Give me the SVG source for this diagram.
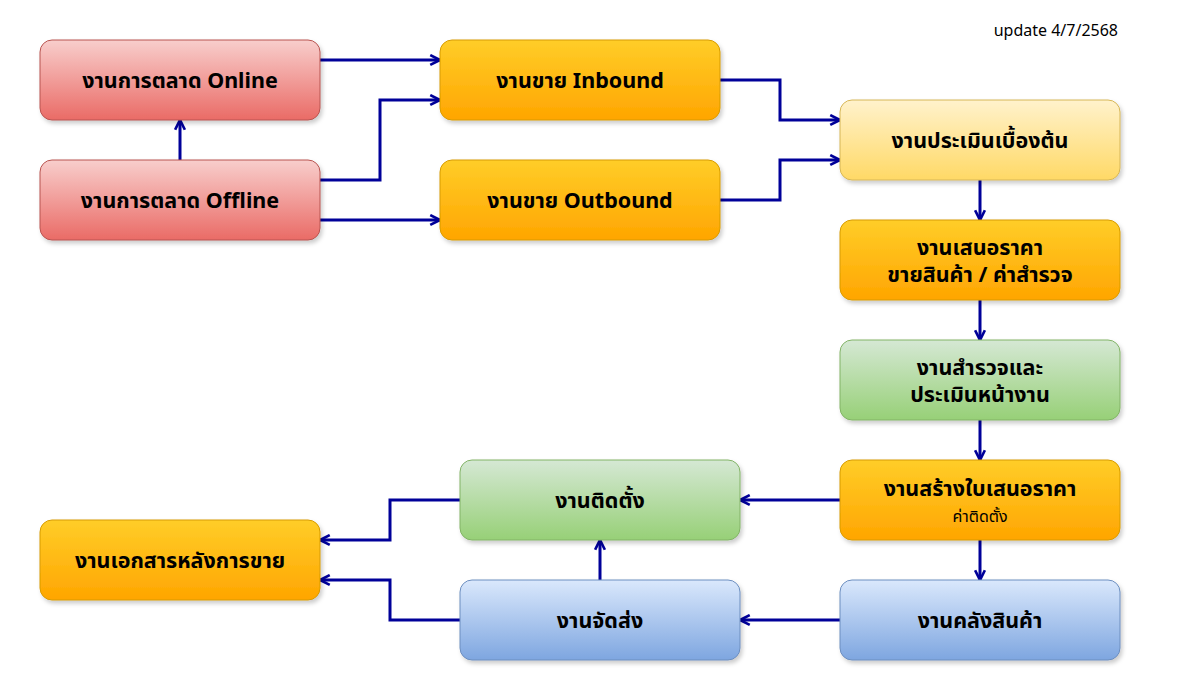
<svg xmlns="http://www.w3.org/2000/svg" width="1200" height="700" viewBox="0 0 1200 700">
<defs>
<linearGradient id="gRed" x1="0" y1="0" x2="0" y2="1"><stop offset="0" stop-color="#f8cecc"/><stop offset="1" stop-color="#ea6b66"/></linearGradient>
<linearGradient id="gOrange" x1="0" y1="0" x2="0" y2="1"><stop offset="0" stop-color="#ffcd28"/><stop offset="1" stop-color="#ffa500"/></linearGradient>
<linearGradient id="gYellow" x1="0" y1="0" x2="0" y2="1"><stop offset="0" stop-color="#fff2cc"/><stop offset="1" stop-color="#ffd966"/></linearGradient>
<linearGradient id="gGreen" x1="0" y1="0" x2="0" y2="1"><stop offset="0" stop-color="#d5e8d4"/><stop offset="1" stop-color="#97d077"/></linearGradient>
<linearGradient id="gBlue" x1="0" y1="0" x2="0" y2="1"><stop offset="0" stop-color="#dae8fc"/><stop offset="1" stop-color="#7ea6e0"/></linearGradient>
<filter id="shadow" x="-10%" y="-10%" width="130%" height="140%"><feDropShadow dx="2" dy="3" stdDeviation="2" flood-color="#000" flood-opacity="0.2"/></filter>
<marker id="arr" viewBox="0 0 12 12" refX="11" refY="6" markerWidth="13" markerHeight="13" markerUnits="userSpaceOnUse" orient="auto"><path d="M2,1.5 L11,6 L2,10.5" fill="none" stroke="#000099" stroke-width="2.5"/></marker>
</defs>
<style>
.box{filter:url(#shadow);stroke-width:1}
.red{fill:url(#gRed);stroke:#b85450}
.orange{fill:url(#gOrange);stroke:#d79b00}
.yellow{fill:url(#gYellow);stroke:#d6b656}
.green{fill:url(#gGreen);stroke:#82b366}
.blue{fill:url(#gBlue);stroke:#6c8ebf}
.t{font-family:"Noto Sans","Noto Sans Thai","DejaVu Sans",sans-serif;font-size:21.5px;font-weight:bold;fill:#000;text-anchor:middle;dominant-baseline:central}
.s{font-family:"Noto Sans","Noto Sans Thai","DejaVu Sans",sans-serif;font-size:16px;fill:#000;text-anchor:middle;dominant-baseline:central}
.e{fill:none;stroke:#000099;stroke-width:3;marker-end:url(#arr)}
</style>
<rect width="1200" height="700" fill="#fff"/>
<text x="1118" y="30" style="font-family:'Noto Sans','DejaVu Sans',sans-serif;font-size:16px;fill:#000;text-anchor:end;dominant-baseline:central">update 4/7/2568</text>
<g id="connectors">
<path class="e" d="M320,60 L440,60"/>
<path class="e" d="M320,180 L380,180 L380,100 L440,100"/>
<path class="e" d="M320,220 L440,220"/>
<path class="e" d="M180,160 L180,120"/>
<path class="e" d="M720,80 L780,80 L780,120 L840,120"/>
<path class="e" d="M720,200 L780,200 L780,160 L840,160"/>
<path class="e" d="M980,180 L980,220"/>
<path class="e" d="M980,300 L980,340"/>
<path class="e" d="M980,420 L980,460"/>
<path class="e" d="M840,500 L740,500"/>
<path class="e" d="M980,540 L980,580"/>
<path class="e" d="M840,620 L740,620"/>
<path class="e" d="M600,580 L600,540"/>
<path class="e" d="M460,500 L390,500 L390,540 L320,540"/>
<path class="e" d="M460,620 L390,620 L390,580 L320,580"/>
</g>
<g id="online"><rect class="box red" x="40" y="40" width="280" height="80" rx="12"/><text class="t" x="180" y="79">งานการตลาด Online</text></g>
<g id="offline"><rect class="box red" x="40" y="160" width="280" height="80" rx="12"/><text class="t" x="180" y="199">งานการตลาด Offline</text></g>
<g id="inbound"><rect class="box orange" x="440" y="40" width="280" height="80" rx="12"/><text class="t" x="580" y="79">งานขาย Inbound</text></g>
<g id="outbound"><rect class="box orange" x="440" y="160" width="280" height="80" rx="12"/><text class="t" x="580" y="199">งานขาย Outbound</text></g>
<g id="assess"><rect class="box yellow" x="840" y="100" width="280" height="80" rx="12"/><text class="t" x="980" y="139">งานประเมินเบื้องต้น</text></g>
<g id="quote"><rect class="box orange" x="840" y="220" width="280" height="80" rx="12"/><text class="t" x="980" y="246">งานเสนอราคา</text><text class="t" x="980" y="273">ขายสินค้า / ค่าสำรวจ</text></g>
<g id="survey"><rect class="box green" x="840" y="340" width="280" height="80" rx="12"/><text class="t" x="980" y="366">งานสำรวจและ</text><text class="t" x="980" y="393">ประเมินหน้างาน</text></g>
<g id="installquote"><rect class="box orange" x="840" y="460" width="280" height="80" rx="12"/><text class="t" x="980" y="487">งานสร้างใบเสนอราคา</text><text class="s" x="980" y="516">ค่าติดตั้ง</text></g>
<g id="warehouse"><rect class="box blue" x="840" y="580" width="280" height="80" rx="12"/><text class="t" x="980" y="619">งานคลังสินค้า</text></g>
<g id="install"><rect class="box green" x="460" y="460" width="280" height="80" rx="12"/><text class="t" x="600" y="499">งานติดตั้ง</text></g>
<g id="delivery"><rect class="box blue" x="460" y="580" width="280" height="80" rx="12"/><text class="t" x="600" y="619">งานจัดส่ง</text></g>
<g id="docs"><rect class="box orange" x="40" y="520" width="280" height="80" rx="12"/><text class="t" x="180" y="559">งานเอกสารหลังการขาย</text></g>
</svg>
